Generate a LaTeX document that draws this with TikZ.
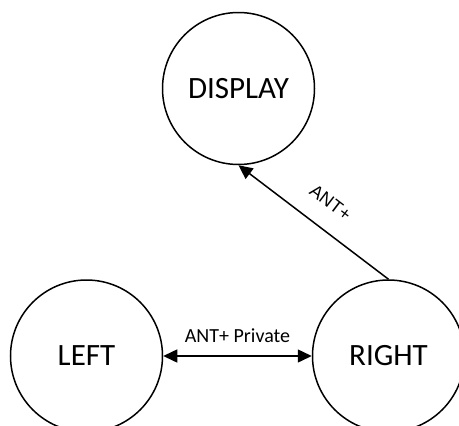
\documentclass[tikz,border=0pt]{standalone}
\usepackage{fontspec}
\setmainfont{Carlito}
\newfontfamily\labelfont{Liberation Sans}
\usetikzlibrary{arrows.meta}
\begin{document}
\begin{tikzpicture}[x=1pt,y=-1pt,
  unit/.style={circle,draw,line width=1.5pt,minimum size=152pt,inner sep=0pt,
    font=\fontsize{31}{31}\selectfont},
  link/.style={line width=1.5pt,-{Triangle[length=14pt,width=13pt]}},
  biglink/.style={line width=1.5pt,{Triangle[length=14pt,width=13pt]}-{Triangle[length=14pt,width=13pt]}}]
  \useasboundingbox (0,0) rectangle (459,426);
  \clip (0,0) rectangle (459,426);
  \node[unit] (display) at (238.5,88.5) {DISPLAY};
  \node[unit] (left) at (86.5,356) {LEFT};
  \node[unit] (right) at (388.5,356) {RIGHT};
  \draw[link] (right.north) -- (display.south)
    node[pos=0.49,sloped,above=18pt,inner sep=1pt,font=\labelfont\fontsize{18}{18}\selectfont] (antlbl) {ANT+};
  \draw[biglink] (left.east) -- (right.west)
    node[midway,above=9pt,font=\fontsize{20}{20}\selectfont] (privlbl) {ANT+ Private};
\end{tikzpicture}
\end{document}
